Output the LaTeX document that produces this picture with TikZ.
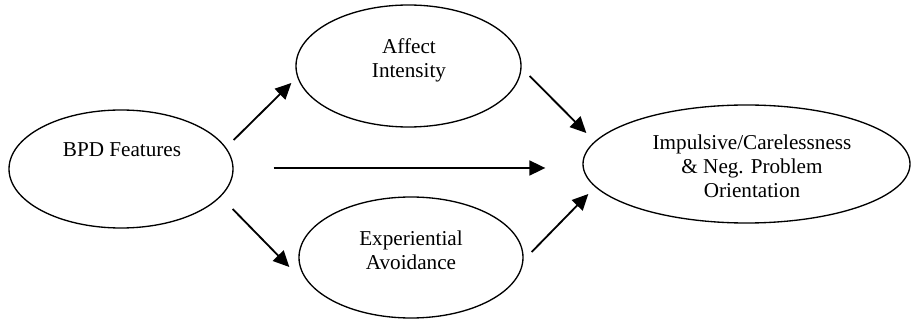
\documentclass[tikz,border=0pt]{standalone}
\usepackage{fontspec}
\setmainfont{Liberation Serif}
\usetikzlibrary{shapes.geometric,arrows.meta}

\begin{document}
\begin{tikzpicture}[x=0.6pt,y=-0.6pt,
  latent/.style={draw,ellipse,line width=0.8pt,inner sep=0pt},
  lbl/.style={align=center,font=\fontsize{12.7}{14.4}\selectfont,inner sep=0pt},
  effect/.style={-{Triangle[length=9.6pt,width=9pt]},line width=1.1pt}]

\useasboundingbox (0,0) rectangle (913,321);

%draws the four ellipses
\node[latent,minimum width=134.4pt,minimum height=70.8pt] (bpd) at (121,169) {};
\node[latent,minimum width=135pt,minimum height=73.2pt] (aff) at (408.5,66) {};
\node[latent,minimum width=134.4pt,minimum height=72.6pt] (exp) at (411,257.5) {};
\node[latent,minimum width=196.2pt,minimum height=70.8pt] (imp) at (746.5,164) {};

%writes the labels inside the ellipses
\node[lbl] (bpdtxt) at (122,150) {BPD Features};
\node[lbl] (afftxt) at (409,60) {Affect\\Intensity};
\node[lbl] (exptxt) at (411,250) {Experiential\\Avoidance};
\node[lbl] (imptxt) at (752,166.5) {Impulsive/Carelessness\\\& Neg. Problem\\Orientation};

%draws the paths
\draw[effect] ([shift={(0,-29)}]bpd.east) -- ([shift={(-4,17)}]aff.west);
\draw[effect] ([shift={(-1,40)}]bpd.east) -- ([shift={(-9,9.5)}]exp.west);
\draw[effect] ([shift={(40,-1)}]bpd.east) -- ([shift={(-37,4)}]imp.west);
\draw[effect] ([shift={(8,10)}]aff.east) -- ([shift={(4,-31)}]imp.west);
\draw[effect] ([shift={(8,-5.5)}]exp.east) -- ([shift={(6,30)}]imp.west);

\end{tikzpicture}
\end{document}
